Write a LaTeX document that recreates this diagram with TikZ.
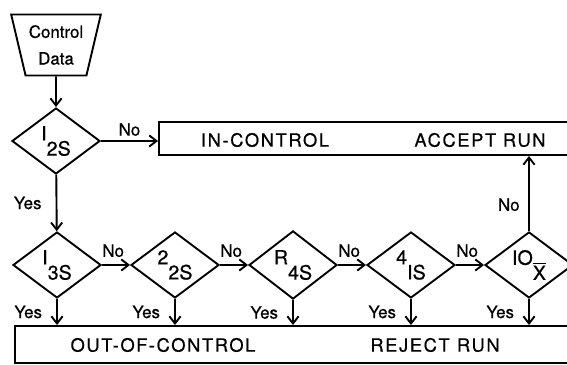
\documentclass[tikz,border=0pt]{standalone}
\usepackage{fontspec}
\setmainfont{TeX Gyre Heros}
\newfontfamily\spacedfont[LetterSpace=9,FakeBold=0.6]{TeX Gyre Heros}
\newfontfamily\labelfont[FakeBold=0.6]{TeX Gyre Heros}
\usetikzlibrary{arrows.meta,positioning,shapes.geometric}
\newcommand{\testlab}[2]{\raisebox{0.42em}{#1}\raisebox{-0.35em}{#2}}
\tikzset{
  >={Straight Barb[length=1.8mm,width=2.8mm]},
  test/.style={diamond,draw,line width=1.35pt,minimum width=2.2cm,minimum height=1.65cm,
    inner sep=0pt,font=\labelfont\fontsize{14}{15}\selectfont},
  verdict/.style={rectangle,draw,line width=1.35pt,inner sep=0pt},
  source/.style={trapezium,draw,line width=1.35pt,trapezium stretches=true,
    shape border rotate=180,trapezium angle=72,minimum width=2.25cm,minimum height=1.525cm,
    inner sep=0pt,align=center,font=\labelfont\fontsize{12}{19}\selectfont},
  caption/.style={font=\spacedfont\fontsize{13}{14}\selectfont},
  answer/.style={font=\labelfont\fontsize{12}{13}\selectfont,inner sep=2pt},
  flow/.style={->,line width=1.35pt},
}
\begin{document}
\begin{tikzpicture}[x=0.025cm,y=-0.025cm]
  \useasboundingbox (0,0) rectangle (567,365);
  \node[source] (data) at (56,45) {Control\\Data};
  \node[test] (i2s) at (56,141) {\testlab{I}{2S}};
  % decision boxes
  \node[verdict,minimum width=11.025cm,minimum height=0.825cm] (accept) at (379.5,138.5) {};
  \node[caption] (incontrol) at (265,140) {IN-CONTROL};
  \node[caption] (acceptrun) at (480,140) {ACCEPT RUN};
  \node[verdict,minimum width=14.625cm,minimum height=0.925cm] (reject) at (307.5,344.5) {};
  \node[caption] (outcontrol) at (163,345) {OUT-OF-CONTROL};
  \node[caption] (rejectrun) at (435,345) {REJECT\hspace{0.4em}RUN};
  % rule row
  \foreach \n/\lab [count=\i from 0] in {i3s/{\testlab{I}{3S}},t22s/{\testlab{2}{2S}},
      r4s/{\testlab{R}{4S}},t41s/{\testlab{4}{IS}},t10x/{\testlab{IO}{$\overline{\hbox{X}}$}}}
    \node[test] (\n) at (57+118*\i,265) {\lab};
  \draw[flow] (data) -- (i2s);
  \draw[flow] (i2s) -- node[answer,above=1pt]{No} (i2s.east -| accept.west);
  \draw[flow] (i2s) -- node[answer,left=8pt]{Yes} (i3s);
  \foreach \a/\b in {i3s/t22s,t22s/r4s,r4s/t41s,t41s/t10x}
    \draw[flow] (\a) -- node[answer,above=3pt,xshift=-2pt]{No} (\b);
  \foreach \n in {i3s,t22s,r4s,t41s,t10x}
    \draw[flow] (\n) -- node[answer,left=8pt]{Yes} (\n |- reject.north);
  \draw[flow] (t10x) -- node[answer,left=4pt,pos=0.35]{No} (t10x |- accept.south);
\end{tikzpicture}
\end{document}
